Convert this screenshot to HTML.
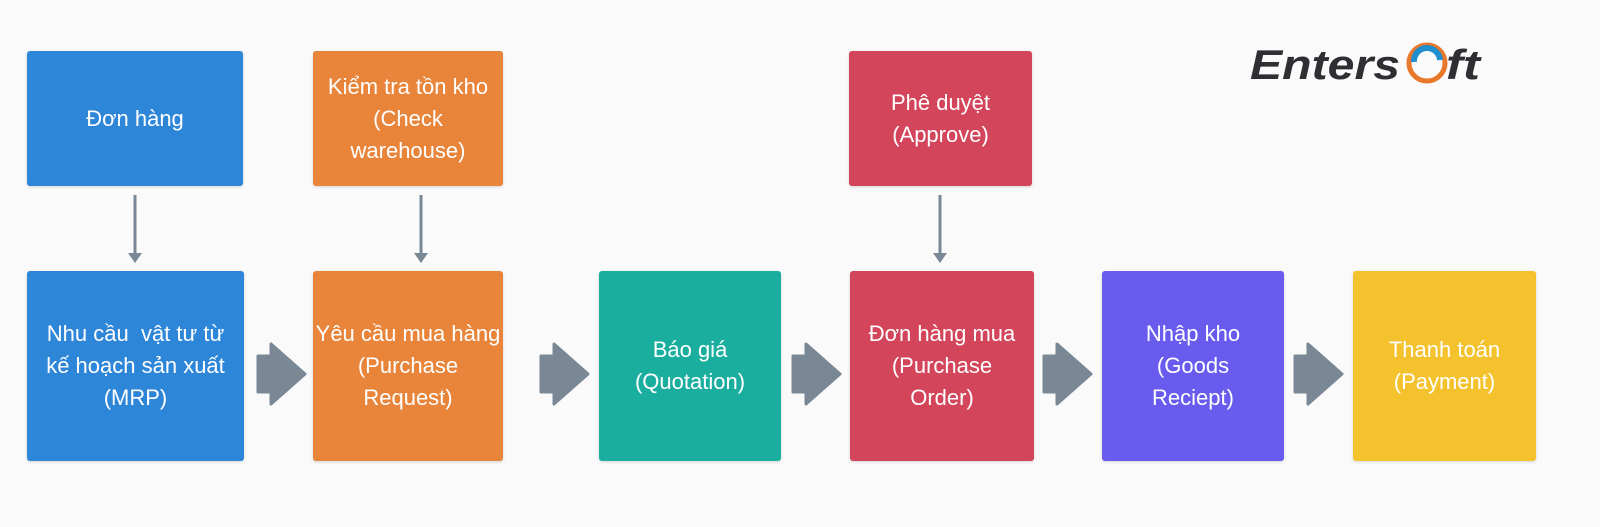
<!DOCTYPE html>
<html><head><meta charset="utf-8"><style>
body{margin:0;width:1600px;height:527px;background:#fafafa;position:relative;overflow:hidden;font-family:"Liberation Sans","DejaVu Sans",sans-serif}
.b{position:absolute;border-radius:3px;color:#fff;font-size:22px;line-height:32px;display:flex;align-items:center;justify-content:center;text-align:center;box-shadow:0 1px 3px rgba(0,0,0,.15)}
.blue{background:#2e86d9}.or{background:#e8853b}.te{background:#1aae9f}.re{background:#d3455b}.pu{background:#6a5bef}.ye{background:#f4c22c}
svg{position:absolute;left:0;top:0}
</style></head><body>
<div class="b blue" style="left:27px;top:51px;width:216px;height:135px">Đơn hàng</div>
<div class="b or" style="left:313px;top:51px;width:190px;height:135px">Kiểm tra tồn kho<br>(Check<br>warehouse)</div>
<div class="b re" style="left:849px;top:51px;width:183px;height:135px">Phê duyệt<br>(Approve)</div>
<div class="b blue" style="left:27px;top:271px;width:217px;height:190px">Nhu cầu&nbsp; vật tư từ<br>kế hoạch sản xuất<br>(MRP)</div>
<div class="b or" style="left:313px;top:271px;width:190px;height:190px">Yêu cầu mua hàng<br>(Purchase<br>Request)</div>
<div class="b te" style="left:599px;top:271px;width:182px;height:190px">Báo giá<br>(Quotation)</div>
<div class="b re" style="left:850px;top:271px;width:184px;height:190px">Đơn hàng mua<br>(Purchase<br>Order)</div>
<div class="b pu" style="left:1102px;top:271px;width:182px;height:190px">Nhập kho<br>(Goods<br>Reciept)</div>
<div class="b ye" style="left:1353px;top:271px;width:183px;height:190px">Thanh toán<br>(Payment)</div>
<svg width="1600" height="527">
<g fill="#7a8795" stroke="#7a8795">
<g stroke-width="3"><line x1="135" y1="195" x2="135" y2="254"/><line x1="421" y1="195" x2="421" y2="254"/><line x1="940" y1="195" x2="940" y2="254"/></g>
<polygon stroke="none" points="128,253 142,253 135,263"/>
<polygon stroke="none" points="414,253 428,253 421,263"/>
<polygon stroke="none" points="933,253 947,253 940,263"/>
</g>
<g fill="#7a8795" stroke="#7a8795" stroke-linejoin="round" stroke-width="3">
<polygon points="258,356 271,356 271,344 305,374 271,404 271,392 258,392"/>
<polygon points="541,356 554,356 554,344 588,374 554,404 554,392 541,392"/>
<polygon points="793,356 806,356 806,344 840,374 806,404 806,392 793,392"/>
<polygon points="1044,356 1057,356 1057,344 1091,374 1057,404 1057,392 1044,392"/>
<polygon points="1295,356 1308,356 1308,344 1342,374 1308,404 1308,392 1295,392"/>
</g>
<text x="1250" y="79" textLength="150" lengthAdjust="spacingAndGlyphs" font-family="Liberation Sans,sans-serif" font-weight="bold" font-style="italic" font-size="42" fill="#2f2f33">Enters</text>
<circle cx="1427" cy="63" r="18" fill="none" stroke="#e8782a" stroke-width="5"/>
<path d="M1414,62 a13,13 0 0 1 26,-2" fill="none" stroke="#1f8fd0" stroke-width="6"/>
<text x="1446" y="79" textLength="34" lengthAdjust="spacingAndGlyphs" font-family="Liberation Sans,sans-serif" font-weight="bold" font-style="italic" font-size="42" fill="#2f2f33">ft</text>
</svg>
</body></html>
